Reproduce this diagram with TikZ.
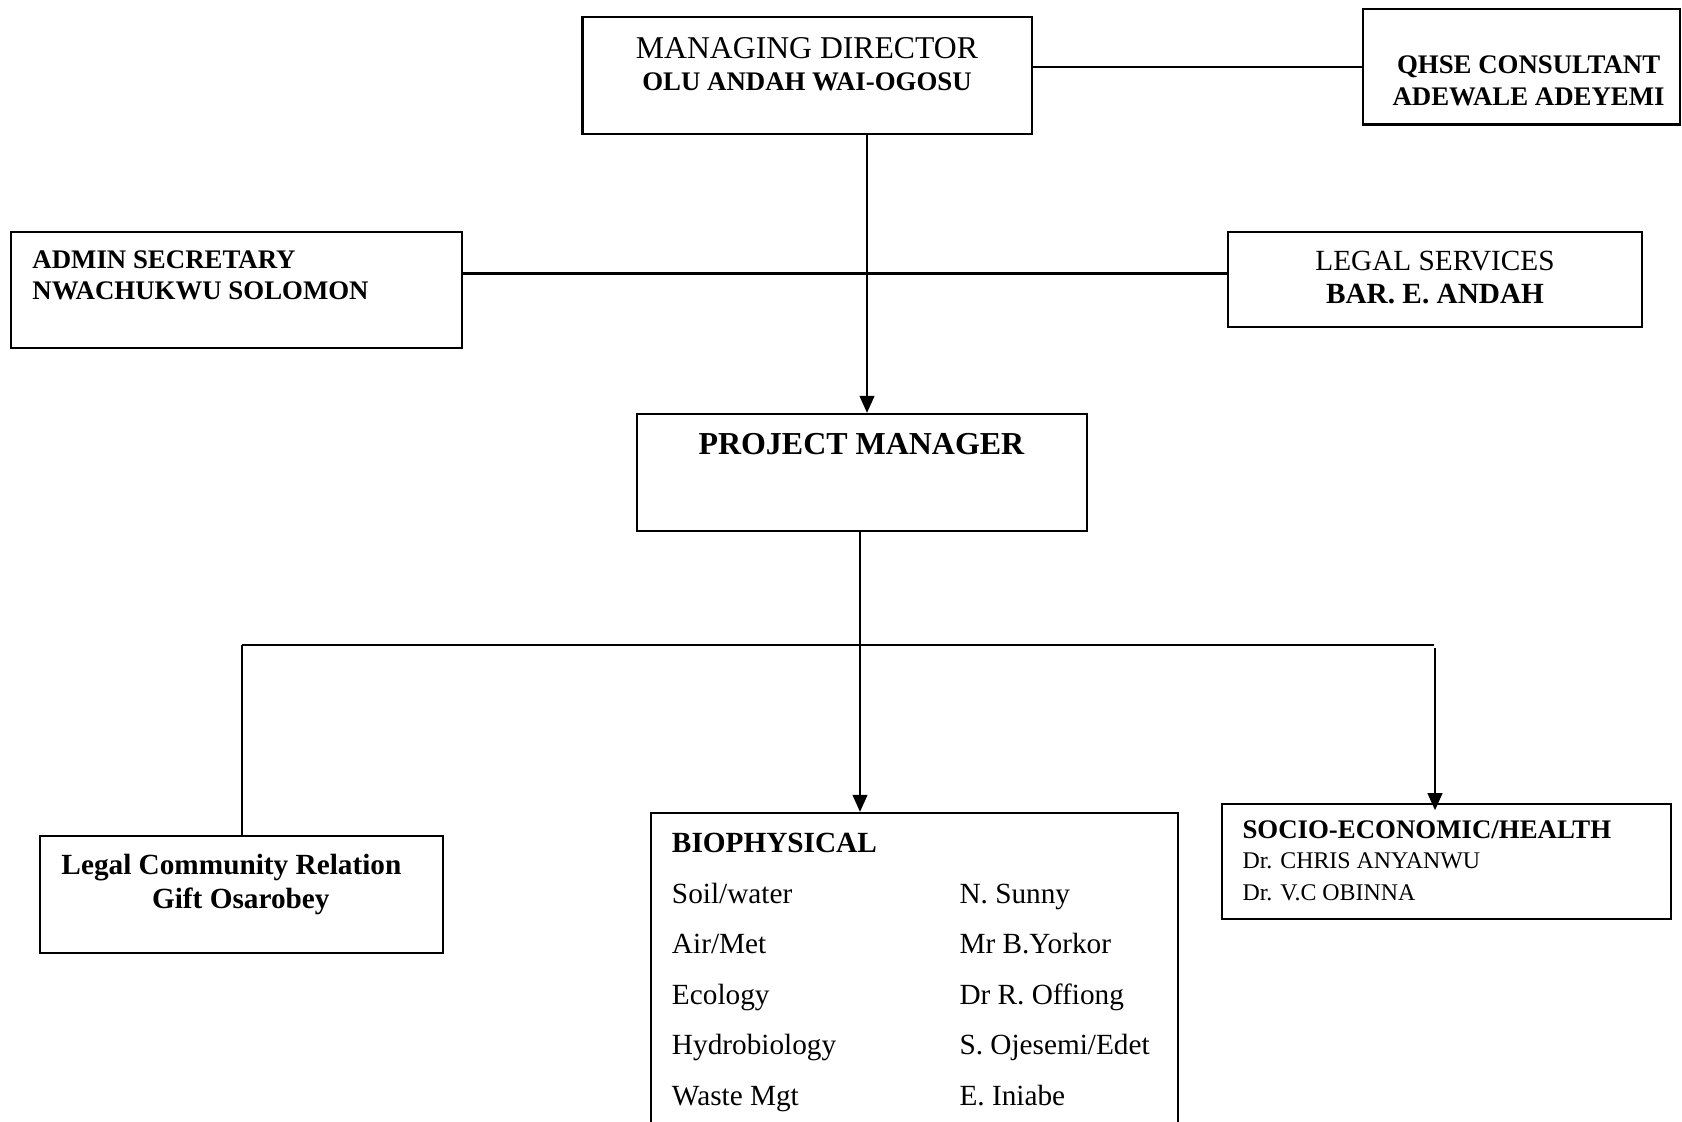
\documentclass[tikz,border=0pt]{standalone}
\usepackage{fontspec}
\setmainfont{Liberation Serif}
\usetikzlibrary{fit,arrows.meta}
\begin{document}
\begin{tikzpicture}[x=0.41pt,y=-0.41pt,
 box/.style={draw, line width=0.9pt, inner sep=0pt},
 txt/.style={inner sep=0pt, anchor=base},
 ltxt/.style={inner sep=0pt, anchor=base west},
 conn/.style={line width=0.9pt},
 arr/.style={conn, -{Triangle[length=7pt,width=6pt]}}]
\useasboundingbox (0,0) rectangle (1682,1121);
% boxes
\node[box, fit={(582.5,17) (1032,134)}] (md) {};
\node[box, fit={(1363,9) (1680,124.5)}] (qhse) {};
\node[box, fit={(11,232) (462,348)}] (admin) {};
\node[box, fit={(1228,232) (1642,327)}] (legal) {};
\node[box, fit={(637,414) (1087,531)}] (pm) {};
\node[box, fit={(40,836) (443,953)}] (lcr) {};
\node[box, fit={(651,813) (1178,1130)}] (bio) {};
\node[box, fit={(1222,804) (1671,919)}] (socio) {};
% texts
\node[txt, font=\fontsize{13}{15}\selectfont] (mdt1) at (807,58) {MANAGING DIRECTOR};
\node[txt, font=\fontsize{11}{13}\selectfont\bfseries] (mdt2) at (807,90.4) {OLU ANDAH WAI-OGOSU};
\node[txt, font=\fontsize{11}{13}\selectfont\bfseries] (qt1) at (1528.6,73.3) {QHSE CONSULTANT};
\node[txt, font=\fontsize{11}{13}\selectfont\bfseries] (qt2) at (1528.6,105.4) {ADEWALE ADEYEMI};
\node[ltxt, font=\fontsize{11}{13}\selectfont\bfseries] (at1) at (32,268.5) {ADMIN SECRETARY};
\node[ltxt, font=\fontsize{11}{13}\selectfont\bfseries] (at2) at (32,299.6) {NWACHUKWU SOLOMON};
\node[txt, font=\fontsize{12}{14}\selectfont] (lt1) at (1435,270.4) {LEGAL SERVICES};
\node[txt, font=\fontsize{12}{14}\selectfont\bfseries] (lt2) at (1435,303.7) {BAR. E. ANDAH};
\node[txt, font=\fontsize{13.1}{15}\selectfont\bfseries] (pmt) at (861.4,454.5) {PROJECT MANAGER};
\node[ltxt, font=\fontsize{12}{14}\selectfont\bfseries] (lct1) at (61,874) {Legal Community Relation};
\node[txt, font=\fontsize{12}{14}\selectfont\bfseries] (lct2) at (240.8,908) {Gift Osarobey};
\node[ltxt, font=\fontsize{12}{14}\selectfont\bfseries] (bt0) at (671.5,852.7) {BIOPHYSICAL};
\begin{scope}[every node/.style={ltxt, font=\fontsize{12}{14}\selectfont}]
\node (b1a) at (671.5,903.2) {Soil/water};
\node (b1b) at (959,903.2) {N. Sunny};
\node (b2a) at (671.5,953.7) {Air/Met};
\node (b2b) at (959,953.7) {Mr B.Yorkor};
\node (b3a) at (671.5,1004.2) {Ecology};
\node (b3b) at (959,1004.2) {Dr R. Offiong};
\node (b4a) at (671.5,1054.5) {Hydrobiology};
\node (b4b) at (959,1054.5) {S. Ojesemi/Edet};
\node (b5a) at (671.5,1105) {Waste Mgt};
\node (b5b) at (959,1105) {E. Iniabe};
\end{scope}
\node[ltxt, font=\fontsize{11}{13}\selectfont\bfseries] (st1) at (1242,838) {SOCIO-ECONOMIC/HEALTH};
\node[ltxt, font=\fontsize{9.8}{12}\selectfont] (st2) at (1242,868.3) {Dr. CHRIS ANYANWU};
\node[ltxt, font=\fontsize{9.8}{12}\selectfont] (st3) at (1242,900.5) {Dr. V.C OBINNA};
% connectors
\coordinate (mdx) at (867,0);
\coordinate (hl) at (0,273.5);
\coordinate (busL) at (242,645);
\coordinate (busM) at (860,645);
\coordinate (busR) at (1434,645);
\coordinate (rx) at (1435,648);
\draw[conn] (md.east |- qhse.west) -- (qhse.west);
\draw[arr] (md.south -| mdx) -- (pm.north -| mdx);
\draw[conn] (admin.east |- hl) -- (legal.west |- hl);
\draw[conn] (pm.south -| busM) -- (busM);
\draw[conn] (busL) -- (busR);
\draw[conn] (busL) -- (lcr.north -| busL);
\draw[arr] (busM) -- (bio.north -| busM);
\draw[arr] (rx) -- ([yshift=-3pt]socio.north -| rx);
\end{tikzpicture}
\end{document}
